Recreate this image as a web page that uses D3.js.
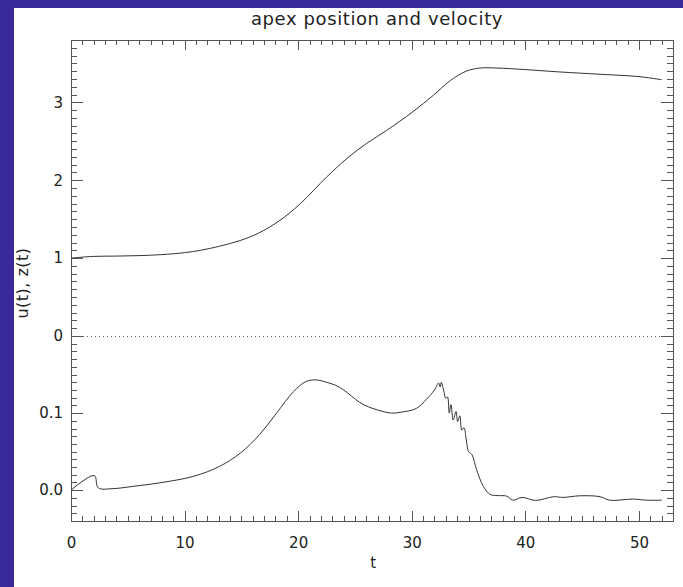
<!DOCTYPE html>
<html>
<head>
<meta charset="utf-8">
<script src="https://cdn.jsdelivr.net/npm/d3@7"></script>
<style>
  html, body { margin: 0; padding: 0; background: #ffffff; }
  svg { display: block; }
  text { font-family: "DejaVu Sans", "Liberation Sans", sans-serif; fill: #222; }
</style>
</head>
<body>
<svg id="chart" width="683" height="587"></svg>
<script>
// ---- data ----
const title = "apex position and velocity";
const xLabel = "t";
const yLabel = "u(t), z(t)";

// top panel: apex position z(t)
const tZ = [0, 2, 4, 6, 8, 10, 11.4, 13, 14.9, 16.5, 18.4, 20.2, 22.5, 24.3, 26, 27.8, 30.1, 31.9, 33.4, 34.8, 36, 37.5, 40, 43, 46.6, 50, 52];
const zVals = [1.00, 1.022, 1.026, 1.032, 1.045, 1.07, 1.10, 1.15, 1.226, 1.32, 1.485, 1.70, 2.04, 2.28, 2.47, 2.64, 2.88, 3.09, 3.28, 3.40, 3.44, 3.44, 3.42, 3.39, 3.36, 3.33, 3.29];

// bottom panel: apex velocity u(t)
const tU = [0, 2.05, 2.4, 3.7, 5.5, 7.8, 10.8, 13.1, 14.9, 16.6, 18.1, 19.6, 20.7, 21.6, 22.5, 23.3, 24.0, 24.7, 25.4, 26.2, 27.0, 28.2, 29.0, 30.4, 31.3, 32.0, 32.36, 32.5, 32.6, 32.8, 33.0, 33.15, 33.3, 33.45, 33.65, 33.9, 34.04, 34.24, 34.4, 34.6, 34.8, 35.0, 35.3, 35.7, 36.3, 36.9, 37.5, 38.35, 38.9, 39.7, 40.9, 42.5, 43.3, 44.8, 46.6, 47.4, 49.5, 50.7, 52.0];
const uVals = [0, 0.019, 0.003, 0.002, 0.005, 0.0095, 0.018, 0.031, 0.048, 0.072, 0.100, 0.128, 0.141, 0.143, 0.140, 0.136, 0.130, 0.122, 0.114, 0.108, 0.104, 0.100, 0.101, 0.106, 0.118, 0.130, 0.139, 0.134, 0.140, 0.130, 0.119, 0.121, 0.100, 0.111, 0.091, 0.102, 0.089, 0.0965, 0.078, 0.081, 0.065, 0.050, 0.046, 0.027, 0.005, -0.0055, -0.007, -0.0077, -0.013, -0.0094, -0.0133, -0.0085, -0.0094, -0.0073, -0.0085, -0.013, -0.0116, -0.013, -0.013];

// tick values / labels
const xMajorTicks = [0, 10, 20, 30, 40, 50];
const zMajorTicks = [0, 1, 2, 3];
const uMajorTicks = [0.0, 0.1];

// ---- layout ----
const svg = d3.select("#chart");
const W = 683, H = 587;
const L = 71, R = 673, T = 40, B = 521, MID = 336;

svg.append("rect").attr("x", 0).attr("y", 0).attr("width", W).attr("height", H).attr("fill", "#ffffff");
svg.append("rect").attr("x", 0).attr("y", 0).attr("width", 14).attr("height", H).attr("fill", "#39289a");
svg.append("rect").attr("x", 0).attr("y", 0).attr("width", W).attr("height", 8).attr("fill", "#39289a");

const x = d3.scaleLinear().domain([0, 53]).range([L, R]);
const yTop = d3.scaleLinear().domain([0, 3.8]).range([MID, T]);
const yBot = d3.scaleLinear().domain([-0.04, 0.2]).range([B, MID]);

const axisColor = "#555";
const lineColor = "#333";

function styleAxis(g) {
  g.select(".domain").remove();
  g.selectAll(".tick line").attr("stroke", axisColor).attr("shape-rendering", "crispEdges");
  g.selectAll(".tick text").attr("font-size", 15).attr("fill", "#222")
    .attr("font-family", "\"DejaVu Sans\", sans-serif");
}

const xMinor = d3.range(0, 54, 1).filter(v => v % 10 !== 0);
const zMinor = d3.range(0, 39).map(i => i / 10).filter((v, i) => i % 10 !== 0 && v < 3.8);
const uMinor = d3.range(-4, 20).map(i => i / 100).filter((v, i) => Math.abs(Math.round(v * 100)) % 10 !== 0);

// bottom axis
svg.append("g").attr("transform", `translate(0,${B})`)
  .call(d3.axisBottom(x).tickValues(xMajorTicks).tickFormat(d3.format("d")).tickSizeInner(-10).tickSizeOuter(0).tickPadding(16))
  .call(styleAxis);
svg.append("g").attr("transform", `translate(0,${B})`)
  .call(d3.axisBottom(x).tickValues(xMinor).tickFormat("").tickSizeInner(-5).tickSizeOuter(0))
  .call(styleAxis);
// top axis
svg.append("g").attr("transform", `translate(0,${T})`)
  .call(d3.axisTop(x).tickValues(xMajorTicks).tickFormat("").tickSizeInner(-10).tickSizeOuter(0))
  .call(styleAxis);
svg.append("g").attr("transform", `translate(0,${T})`)
  .call(d3.axisTop(x).tickValues(xMinor).tickFormat("").tickSizeInner(-5).tickSizeOuter(0))
  .call(styleAxis);

// left axes
svg.append("g").attr("transform", `translate(${L},0)`)
  .call(d3.axisLeft(yTop).tickValues(zMajorTicks).tickFormat(d3.format("d")).tickSizeInner(-12).tickSizeOuter(0).tickPadding(8))
  .call(styleAxis);
svg.append("g").attr("transform", `translate(${L},0)`)
  .call(d3.axisLeft(yTop).tickValues(zMinor).tickFormat("").tickSizeInner(-6).tickSizeOuter(0))
  .call(styleAxis);
svg.append("g").attr("transform", `translate(${L},0)`)
  .call(d3.axisLeft(yBot).tickValues(uMajorTicks).tickFormat(d3.format(".1f")).tickSizeInner(-12).tickSizeOuter(0).tickPadding(8))
  .call(styleAxis);
svg.append("g").attr("transform", `translate(${L},0)`)
  .call(d3.axisLeft(yBot).tickValues(uMinor).tickFormat("").tickSizeInner(-6).tickSizeOuter(0))
  .call(styleAxis);

// right axes
svg.append("g").attr("transform", `translate(${R},0)`)
  .call(d3.axisRight(yTop).tickValues(zMajorTicks).tickFormat("").tickSizeInner(-12).tickSizeOuter(0))
  .call(styleAxis);
svg.append("g").attr("transform", `translate(${R},0)`)
  .call(d3.axisRight(yTop).tickValues(zMinor).tickFormat("").tickSizeInner(-6).tickSizeOuter(0))
  .call(styleAxis);
svg.append("g").attr("transform", `translate(${R},0)`)
  .call(d3.axisRight(yBot).tickValues(uMajorTicks).tickFormat("").tickSizeInner(-12).tickSizeOuter(0))
  .call(styleAxis);
svg.append("g").attr("transform", `translate(${R},0)`)
  .call(d3.axisRight(yBot).tickValues(uMinor).tickFormat("").tickSizeInner(-6).tickSizeOuter(0))
  .call(styleAxis);

// frame
svg.append("rect").attr("x", L + 0.5).attr("y", T + 0.5).attr("width", R - L).attr("height", B - T)
  .attr("fill", "none").attr("stroke", axisColor).attr("stroke-width", 1);

// dotted separator at zero
svg.append("line").attr("x1", L).attr("x2", R).attr("y1", yTop(0) + 0.5).attr("y2", yTop(0) + 0.5)
  .attr("stroke", "#666").attr("stroke-dasharray", "1,3");

// curves
const lineZ = d3.line().x((d, i) => x(tZ[i])).y(d => yTop(d)).curve(d3.curveCatmullRom.alpha(0.5));
svg.append("path").attr("d", lineZ(zVals)).attr("fill", "none").attr("stroke", lineColor).attr("stroke-width", 1);

const lineU = d3.line().x((d, i) => x(tU[i])).y(d => yBot(d)).curve(d3.curveCatmullRom.alpha(0.5));
svg.append("path").attr("d", lineU(uVals)).attr("fill", "none").attr("stroke", lineColor).attr("stroke-width", 1);

// title and axis labels
svg.append("text").attr("x", (L + R) / 2 + 5).attr("y", 25).attr("text-anchor", "middle")
  .attr("font-size", 18).attr("letter-spacing", 0.6).text(title);
svg.append("text").attr("x", x(26.6)).attr("y", 568).attr("text-anchor", "middle")
  .attr("font-size", 15).text(xLabel);
svg.append("text").attr("transform", "translate(28,283) rotate(-90)").attr("text-anchor", "middle")
  .attr("font-size", 16).attr("letter-spacing", 0.5).text(yLabel);
</script>
</body>
</html>
